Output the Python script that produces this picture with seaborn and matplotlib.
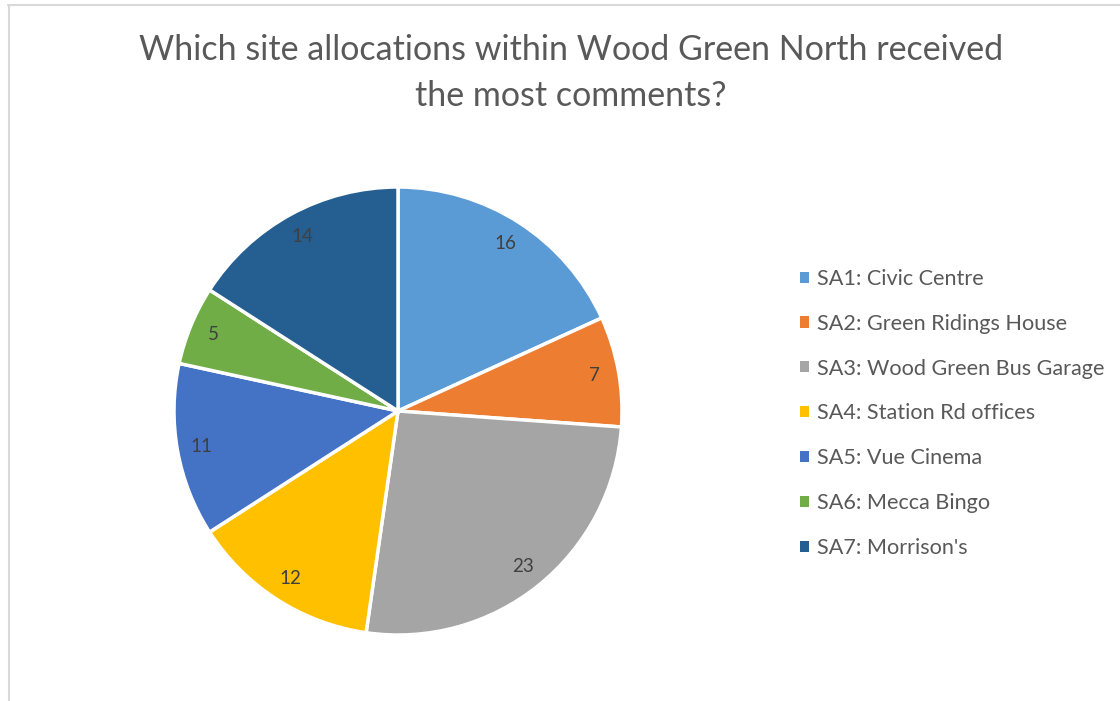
import matplotlib
matplotlib.use("Agg")
import matplotlib.pyplot as plt
import matplotlib.patches as mpatches
from matplotlib.lines import Line2D
import seaborn as sns

# Comment counts per site allocation
sites = ["SA1: Civic Centre", "SA2: Green Ridings House", "SA3: Wood Green Bus Garage",
         "SA4: Station Rd offices", "SA5: Vue Cinema", "SA6: Mecca Bingo", "SA7: Morrison's"]
comments = [16, 7, 23, 12, 11, 5, 14]
colors = ["#5B9BD5", "#ED7D31", "#A5A5A5", "#FFC000", "#4472C4", "#70AD47", "#255E91"]
title = "Which site allocations within Wood Green North received\nthe most comments?"

sns.set_theme(style="white")
plt.rcParams["font.family"] = ["Lato", "DejaVu Sans"]

W, H = 1120, 701
fig = plt.figure(figsize=(W / 100, H / 100), dpi=100)
fig.patch.set_facecolor("white")

# chart-area border (left and top edges)
fig.add_artist(Line2D([8.5 / W, 8.5 / W], [0, 1 - 5 / H], color="#D9D9D9", lw=1.5))
fig.add_artist(Line2D([8 / W, 1], [1 - 5 / H, 1 - 5 / H], color="#D9D9D9", lw=1.5))

# pie axes: centre (398, 411) px, radius 224 px
cx, cy, r = 398, 411, 224
ax = fig.add_axes([(cx - r) / W, (H - cy - r) / H, 2 * r / W, 2 * r / H])
pal = sns.color_palette(colors)
wedges, texts = ax.pie(
    comments,
    labels=[str(v) for v in comments],
    colors=pal,
    startangle=90,
    counterclock=False,
    labeldistance=0.89,
    wedgeprops=dict(edgecolor="white", linewidth=2.5),
    textprops=dict(color="#404040", fontsize=13.5, ha="center", va="center"),
)
for t in texts:
    t.set_ha("center")
    t.set_va("center")
ax.set_xlim(-1, 1)
ax.set_ylim(-1, 1)
ax.set_aspect("equal")
ax.axis("off")

fig.text(571 / W, 1 - 73 / H, title, ha="center", va="center", fontsize=24.5,
         color="#595959", linespacing=1.55)

handles = [mpatches.Patch(facecolor=c, edgecolor="none") for c in colors]
fig.legend(handles, sites, loc="upper left", bbox_to_anchor=(800 / W, 1 - 269 / H),
           frameon=False, fontsize=15.6, labelcolor="#595959",
           handlelength=0.42, handleheight=0.42, handletextpad=0.37,
           labelspacing=1.145, borderaxespad=0, borderpad=0)

fig.savefig("out.png", dpi=100, facecolor="white")
